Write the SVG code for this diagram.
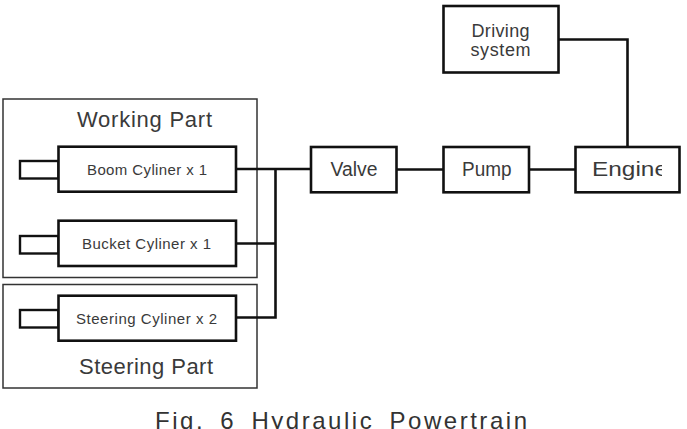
<svg xmlns="http://www.w3.org/2000/svg" width="687" height="429" viewBox="0 0 687 429">
<style>
.grp{fill:none;stroke:#333;stroke-width:1.5}
.box{fill:#fff;stroke:#111;stroke-width:2.6}
.rod{fill:#fff;stroke:#111;stroke-width:2.4}
.wire{fill:none;stroke:#111;stroke-width:2.6}
text{font-family:"Liberation Sans",Arial,sans-serif;fill:#3a3a3a}
.big{font-size:22px}
.small{font-size:15px}
.mid{font-size:18px}
.blk{font-size:20px}
</style>
<defs>
<clipPath id="engClip"><rect x="577" y="148" width="85" height="43"/></clipPath>
</defs>
<rect width="687" height="429" fill="#fff"/>
<g id="working-part">
<rect class="grp" x="3" y="99" width="254" height="178.5"/>
<text class="big" x="77" y="126.5" textLength="135" lengthAdjust="spacing">Working Part</text>
</g>
<g id="steering-part">
<rect class="grp" x="3" y="284.5" width="254" height="103.5"/>
<text class="big" x="79" y="373.5" textLength="134" lengthAdjust="spacing">Steering Part</text>
</g>
<g id="connectors">
<polyline class="wire" points="236,169 312,169"/>
<polyline class="wire" points="236,243.5 275.5,243.5"/>
<polyline class="wire" points="236,317.5 275.5,317.5 275.5,169"/>
<polyline class="wire" points="396,169.5 444,169.5"/>
<polyline class="wire" points="529,169.5 576,169.5"/>
<polyline class="wire" points="558,39.5 627.5,39.5 627.5,147"/>
</g>
<g id="boom-cylinder">
<rect class="rod" x="20" y="161" width="38.5" height="17.5"/>
<rect class="box" x="58.5" y="146.7" width="177.5" height="45"/>
<text class="small" x="87" y="174.5" textLength="120" lengthAdjust="spacing">Boom Cyliner x 1</text>
</g>
<g id="bucket-cylinder">
<rect class="rod" x="20" y="236" width="38.5" height="17.5"/>
<rect class="box" x="58.5" y="220.7" width="177.5" height="45.3"/>
<text class="small" x="82" y="249" textLength="129" lengthAdjust="spacing">Bucket Cyliner x 1</text>
</g>
<g id="steering-cylinder">
<rect class="rod" x="20" y="310" width="38.5" height="17.5"/>
<rect class="box" x="58.5" y="295.7" width="177.5" height="45"/>
<text class="small" x="76" y="324" textLength="141" lengthAdjust="spacing">Steering Cyliner x 2</text>
</g>
<g id="valve">
<rect class="box" x="311" y="147" width="85.5" height="45.3"/>
<text class="blk" x="330.5" y="176" textLength="47" lengthAdjust="spacingAndGlyphs">Valve</text>
</g>
<g id="pump">
<rect class="box" x="443.5" y="147" width="85.5" height="45.3"/>
<text class="blk" x="462" y="176" textLength="49.5" lengthAdjust="spacingAndGlyphs">Pump</text>
</g>
<g id="engine">
<rect class="box" x="575.5" y="147" width="104" height="45.3"/>
<text x="592" y="176" font-size="21" textLength="76" lengthAdjust="spacingAndGlyphs" clip-path="url(#engClip)">Engine</text>
</g>
<g id="driving-system">
<rect class="box" x="443.5" y="6" width="115" height="66.5"/>
<text class="mid" x="471.5" y="37" textLength="58" lengthAdjust="spacing">Driving</text>
<text class="mid" x="470.5" y="55.5" textLength="60" lengthAdjust="spacing">system</text>
</g>
<text id="caption" x="155" y="428.5" font-size="24" word-spacing="6" textLength="372" lengthAdjust="spacing" style="fill:#333">Fig. 6 Hydraulic Powertrain</text>
</svg>
